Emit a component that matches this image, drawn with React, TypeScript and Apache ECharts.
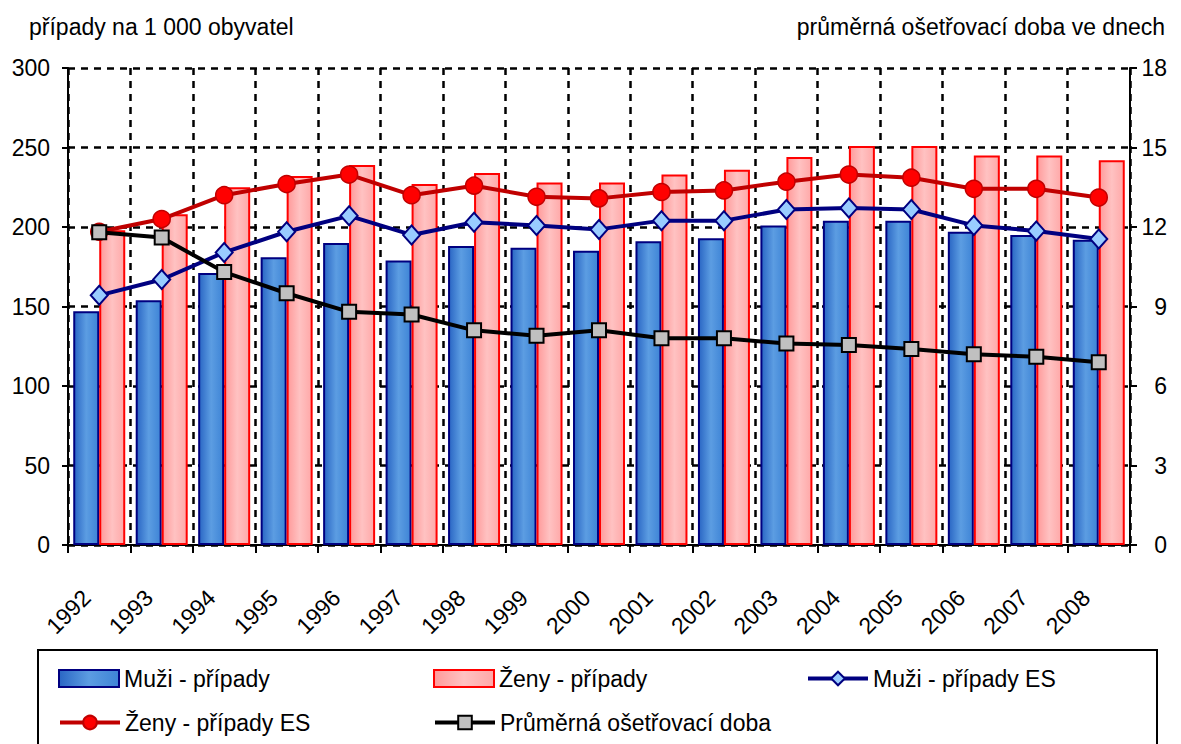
import React, { useEffect, useRef } from "react";
import * as echarts from "echarts";

const years = ["1992", "1993", "1994", "1995", "1996", "1997", "1998", "1999", "2000", "2001", "2002", "2003", "2004", "2005", "2006", "2007", "2008"];
const muziPripady = [147, 154, 171, 181, 190, 179, 188, 187, 185, 191, 193, 201, 204, 204, 197, 195, 192];
const zenyPripady = [198, 208, 225, 232, 239, 227, 234, 228, 228, 233, 236, 244, 251, 251, 245, 245, 242];
const muziES = [157, 167, 184, 197, 207, 195, 203, 201, 198.5, 204, 204, 211, 212, 211, 201, 197.5, 192.5];
const zenyES = [197, 205, 220, 227, 233, 220, 226, 219, 218, 222, 223, 228.5, 233, 231, 224, 224, 218.5];
const doba = [11.8, 11.6, 10.3, 9.5, 8.8, 8.7, 8.1, 7.9, 8.1, 7.8, 7.8, 7.6, 7.55, 7.4, 7.2, 7.1, 6.9];

const leftTicks = { min: 0, max: 300, interval: 50 };
const rightTicks = { min: 0, max: 18, interval: 3 };

const seriesNames = ["Muži - případy", "Ženy - případy", "Muži - případy ES", "Ženy - případy ES", "Průměrná ošetřovací doba"];

const FONT = "'Liberation Sans', Arial, sans-serif";

export default function App() {
  const ref = useRef<HTMLDivElement>(null);
  useEffect(() => {
    if (!ref.current) return;
    const chart = echarts.init(ref.current, null, { renderer: "svg" });
    const blueGrad = new echarts.graphic.LinearGradient(0, 0, 1, 0, [
      { offset: 0, color: "#2a66c4" },
      { offset: 0.5, color: "#5c9de2" },
      { offset: 1, color: "#3e84d6" },
    ]);
    const pinkGrad = new echarts.graphic.LinearGradient(0, 0, 1, 0, [
      { offset: 0, color: "#ff9a9a" },
      { offset: 0.5, color: "#ffc2c2" },
      { offset: 1, color: "#ffa8a8" },
    ]);
    const legendText = { fontSize: 23, color: "#000", fontFamily: FONT };
    const legendPos = [
      { left: 53, top: 662, icon: "rect" },
      { left: 428, top: 662, icon: "rect" },
      { left: 801, top: 662 },
      { left: 53, top: 706 },
      { left: 428, top: 706 },
    ];
    const legends = seriesNames.map((name, i) => ({
      left: legendPos[i].left,
      top: legendPos[i].top,
      itemWidth: 60,
      itemHeight: 17,
      itemGap: 4,
      data: [legendPos[i].icon ? { name, icon: legendPos[i].icon } : { name }],
      textStyle: legendText,
      lineStyle: { width: 4 },
    }));
    chart.setOption({
      animation: false,
      textStyle: { fontFamily: FONT, color: "#000" },
      title: [
        { text: "případy na 1 000 obyvatel", left: 24, top: 10, textStyle: { fontSize: 23, fontWeight: "normal", color: "#000", fontFamily: FONT } },
        { text: "průměrná ošetřovací doba ve dnech", right: 11, top: 10, textStyle: { fontSize: 23, fontWeight: "normal", color: "#000", fontFamily: FONT } },
      ],
      graphic: [
        { type: "rect", shape: { x: 38, y: 650, width: 1119, height: 110 }, style: { fill: "none", stroke: "#000", lineWidth: 2 }, z: 0 },
      ],
      legend: legends,
      grid: { left: 68, right: 51, top: 68, bottom: 199, containLabel: false },
      xAxis: {
        type: "category",
        data: years,
        boundaryGap: true,
        axisLine: { lineStyle: { color: "#000", width: 2 } },
        axisTick: { show: true, interval: 0, length: 8, lineStyle: { color: "#000", width: 2 } },
        axisLabel: { interval: 0, rotate: 45, fontSize: 23, color: "#000", margin: 36, padding: [0, 18, 0, 0], fontFamily: FONT },
        splitLine: { show: true, interval: 0, lineStyle: { color: "#000", width: 2.5, type: [7, 6] } },
      },
      yAxis: [
        {
          type: "value", ...leftTicks,
          axisLine: { show: true, lineStyle: { color: "#000", width: 2 } },
          axisTick: { show: true, length: 6, lineStyle: { color: "#000", width: 2 } },
          axisLabel: { fontSize: 23, color: "#000", margin: 18, fontFamily: FONT },
          splitLine: { show: true, lineStyle: { color: "#000", width: 2.5, type: [7, 6] } },
        },
        {
          type: "value", ...rightTicks,
          position: "right",
          axisLine: { show: true, lineStyle: { color: "#000", width: 2 } },
          axisTick: { show: true, length: 7, lineStyle: { color: "#000", width: 2 } },
          axisLabel: { fontSize: 23, color: "#000", margin: 37, align: "right", fontFamily: FONT },
          splitLine: { show: false },
        },
      ],
      series: [
        {
          name: seriesNames[0], type: "bar", data: muziPripady, barWidth: 26, barGap: "0%",
          itemStyle: { color: blueGrad, borderColor: "#000080", borderWidth: 2 },
        },
        {
          name: seriesNames[1], type: "bar", data: zenyPripady, barWidth: 26, barGap: "0%",
          itemStyle: { color: pinkGrad, borderColor: "#ff0000", borderWidth: 2 },
        },
        {
          name: seriesNames[2], type: "line", data: muziES, symbol: "diamond", symbolSize: [17, 19],
          lineStyle: { color: "#000080", width: 4 },
          itemStyle: { color: "#99ccff", borderColor: "#000080", borderWidth: 2 },
          z: 3,
        },
        {
          name: seriesNames[3], type: "line", data: zenyES, symbol: "circle", symbolSize: 17,
          lineStyle: { color: "#c00000", width: 4 },
          itemStyle: { color: "#ff0000", borderColor: "#c00000", borderWidth: 1.5 },
          z: 4,
        },
        {
          name: seriesNames[4], type: "line", yAxisIndex: 1, data: doba, symbol: "rect", symbolSize: 14,
          lineStyle: { color: "#000000", width: 4 },
          itemStyle: { color: "#c0c0c0", borderColor: "#000000", borderWidth: 2 },
          z: 5,
        },
      ],
    });
    return () => chart.dispose();
  }, []);
  return <div ref={ref} style={{ width: 1181, height: 744, position: "absolute", left: 0, top: 0 }} />;
}
